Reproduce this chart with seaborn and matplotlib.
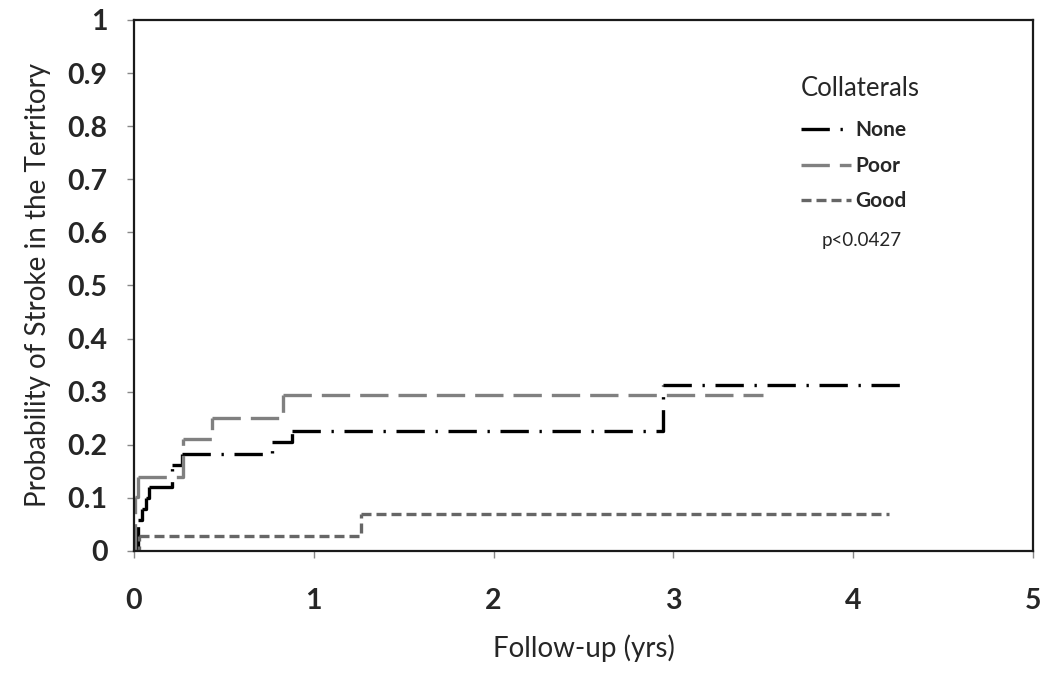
import matplotlib
matplotlib.use("Agg")
import matplotlib.pyplot as plt
from matplotlib.lines import Line2D
import seaborn as sns
import pandas as pd

# Kaplan-Meier style step curves
none_t = [0, 0.025, 0.043, 0.067, 0.085, 0.21, 0.266, 0.77, 0.88, 2.94, 4.26]
none_p = [0, 0.058, 0.08, 0.10, 0.12, 0.162, 0.182, 0.205, 0.226, 0.312, 0.312]

poor_t = [0, 0.005, 0.025, 0.275, 0.434, 0.83, 3.5]
poor_p = [0, 0.102, 0.139, 0.21, 0.25, 0.294, 0.294]

good_t = [0, 0.03, 1.26, 4.2]
good_p = [0, 0.028, 0.07, 0.07]

groups = ["None", "Poor", "Good"]
x_ticks = [0, 1, 2, 3, 4, 5]
y_ticks = [0, 0.1, 0.2, 0.3, 0.4, 0.5, 0.6, 0.7, 0.8, 0.9, 1]
y_labels = ["0", "0.1", "0.2", "0.3", "0.4", "0.5", "0.6", "0.7", "0.8", "0.9", "1"]
p_text = "p<0.0427"

sns.set_style("white")
plt.rcParams["font.family"] = ["Lato", "DejaVu Sans"]

colors = {"None": "#000000", "Poor": "#808080", "Good": "#666666"}
dash_map = {"None": (8.5, 3.2, 0.7, 3.2), "Poor": (8.5, 3.0), "Good": (3.0, 1.5)}


def step_segments(t, p, name):
    # one little line per step, so the dash pattern restarts at every event (like Excel)
    rows = []
    for i in range(len(t) - 1):
        pts = [(t[i], p[i]), (t[i + 1], p[i])]
        if p[i + 1] != p[i]:
            pts.append((t[i + 1], p[i + 1]))
        for k, (x, y) in enumerate(pts):
            rows.append({"t": x, "p": y, "seg": i, "order": k, "grp": name})
    return pd.DataFrame(rows)


df = pd.concat([
    step_segments(none_t, none_p, "None"),
    step_segments(poor_t, poor_p, "Poor"),
    step_segments(good_t, good_p, "Good"),
], ignore_index=True)

fig = plt.figure(figsize=(10.5, 6.73), dpi=100)
ax = fig.add_axes([0.1276, 0.1813, 0.8562, 0.789])

for g in groups:
    sub = df[df["grp"] == g]
    n0 = len(ax.lines)
    sns.lineplot(data=sub, x="t", y="p", units="seg", estimator=None, sort=False,
                 ax=ax, color=colors[g], lw=2.4, legend=False)
    for ln in ax.lines[n0:]:
        ln.set_dashes(dash_map[g])
        ln.set_dash_capstyle("butt")

ax.set_xlim(0, 5)
ax.set_ylim(0, 1)
ax.set_xticks(x_ticks)
ax.set_xticklabels([str(v) for v in x_ticks], fontsize=20.5, fontweight="bold")
ax.set_yticks(y_ticks)
ax.set_yticklabels(y_labels, fontsize=20.5, fontweight="bold")
ax.tick_params(axis="both", direction="out", length=5, width=1, color="#888888",
               left=True, bottom=True)
ax.tick_params(axis="y", pad=14)
ax.tick_params(axis="x", pad=22)

for side in ["top", "right", "left", "bottom"]:
    ax.spines[side].set_visible(True)
    ax.spines[side].set_color("#1a1a1a")
    ax.spines[side].set_linewidth(1.6)

ax.set_xlabel("Follow-up (yrs)", fontsize=20, labelpad=14)
ax.set_ylabel("Probability of Stroke in the Territory", fontsize=20, labelpad=12)

handles = [Line2D([0], [0], color=colors[g], lw=2.4, dashes=dash_map[g]) for g in groups]
leg = ax.legend(handles, groups, loc="upper left", bbox_to_anchor=(0.721, 0.93),
                frameon=False, title="Collaterals", title_fontsize=18.5,
                prop={"size": 15, "weight": "bold"},
                handlelength=2.4, handletextpad=0.2, labelspacing=0.74)
leg._legend_box.align = "left"
leg._legend_box.sep += 3

ax.text(4.05, 0.584, p_text, fontsize=13.5, ha="center", va="center")

fig.savefig("out.png", dpi=100)
